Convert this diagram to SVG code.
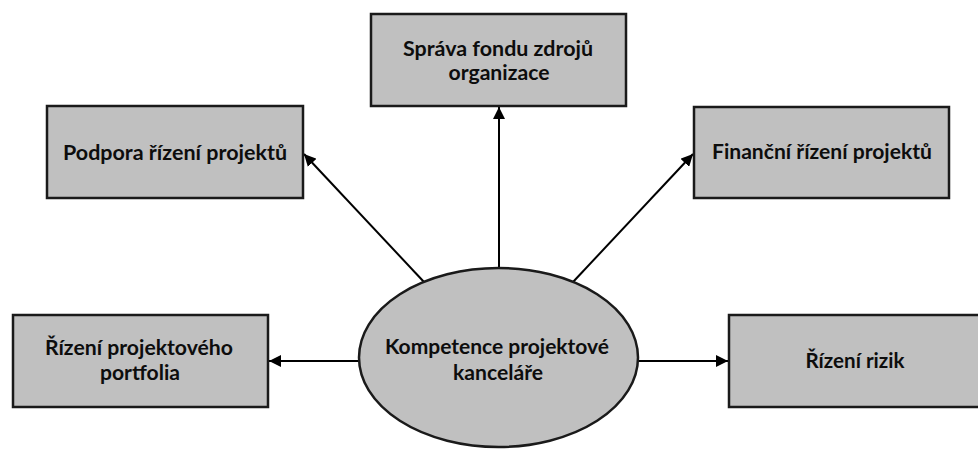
<svg xmlns="http://www.w3.org/2000/svg" width="978" height="449" viewBox="0 0 978 449">
  <style>
    .box { fill: #c0c0c0; stroke: #1a1a1a; stroke-width: 2.5; }
    .lbl { font-family: Lato, "Open Sans", "Liberation Sans", sans-serif; font-weight: 700; font-size: 21px; fill: #0d0d0d; text-anchor: middle; }
    .conn { stroke: #000; stroke-width: 2; fill: none; marker-end: url(#head); }
  </style>
  <defs>
    <marker id="head" viewBox="0 0 10 10" refX="10" refY="5" markerWidth="6" markerHeight="6" markerUnits="strokeWidth" orient="auto">
      <path d="M0,0 L10,5 L0,10 z" fill="#000"/>
    </marker>
  </defs>
  <rect width="978" height="449" fill="#fff"/>

  <!-- connectors from the central competence node -->
  <g id="connectors">
    <line class="conn" x1="499" y1="268" x2="499" y2="107"/>
    <line class="conn" x1="424" y1="282" x2="304" y2="154"/>
    <line class="conn" x1="573" y1="282" x2="693" y2="154"/>
    <line class="conn" x1="359" y1="361" x2="269" y2="361"/>
    <line class="conn" x1="638" y1="361" x2="728" y2="361"/>
  </g>

  <g id="sprava">
    <rect class="box" x="371" y="14" width="255" height="92"/>
    <text class="lbl" x="498" y="56" textLength="190" lengthAdjust="spacingAndGlyphs">Správa fondu zdrojů</text>
    <text class="lbl" x="499" y="80" textLength="101" lengthAdjust="spacingAndGlyphs">organizace</text>
  </g>

  <g id="podpora">
    <rect class="box" x="47" y="106" width="256" height="92"/>
    <text class="lbl" x="175" y="160" textLength="224" lengthAdjust="spacingAndGlyphs">Podpora řízení projektů</text>
  </g>

  <g id="financni">
    <rect class="box" x="694" y="107" width="255" height="91"/>
    <text class="lbl" x="822" y="159" textLength="220" lengthAdjust="spacingAndGlyphs">Finanční řízení projektů</text>
  </g>

  <g id="portfolio">
    <rect class="box" x="13" y="315" width="255" height="92"/>
    <text class="lbl" x="139" y="355" textLength="188" lengthAdjust="spacingAndGlyphs">Řízení projektového</text>
    <text class="lbl" x="140" y="380" textLength="80" lengthAdjust="spacingAndGlyphs">portfolia</text>
  </g>

  <g id="rizika">
    <rect class="box" x="729" y="315" width="254" height="92"/>
    <text class="lbl" x="855" y="368" textLength="99" lengthAdjust="spacingAndGlyphs">Řízení rizik</text>
  </g>

  <g id="kompetence">
    <ellipse class="box" cx="498.5" cy="357.5" rx="139.5" ry="89.5"/>
    <text class="lbl" x="497" y="354" textLength="224" lengthAdjust="spacingAndGlyphs">Kompetence projektové</text>
    <text class="lbl" x="498" y="380" textLength="90" lengthAdjust="spacingAndGlyphs">kanceláře</text>
  </g>
</svg>
